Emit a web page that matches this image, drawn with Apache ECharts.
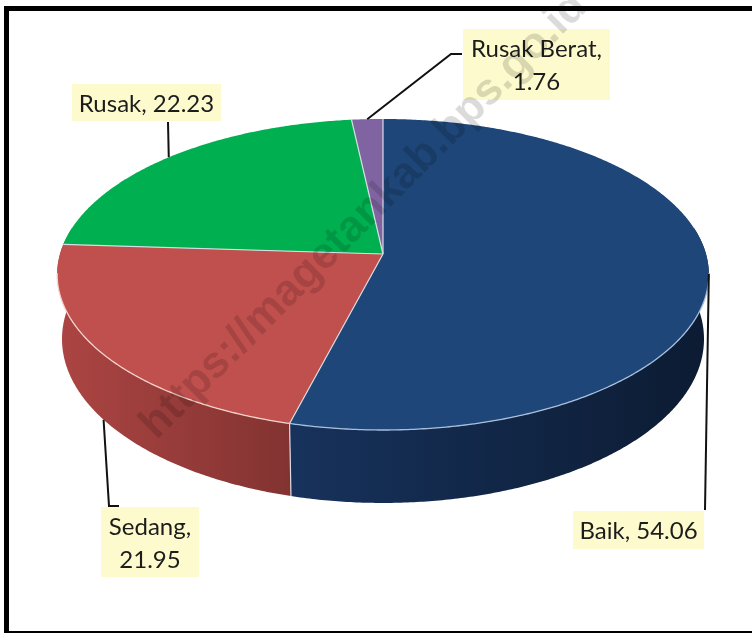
<!DOCTYPE html>
<html><head><meta charset="utf-8">
<style>html,body{margin:0;padding:0;background:#fff}#c{width:752px;height:633px}</style>
<script src="https://cdn.jsdelivr.net/npm/echarts@6/dist/echarts.min.js"></script>
</head><body><div id="c"></div>
<script>
const categories = ['Baik', 'Sedang', 'Rusak', 'Rusak Berat'];
const values = [54.06, 21.95, 22.23, 1.76];
const topColors = ['#1e4678', '#c0504d', '#00b050', '#8064a2'];
const rimColors = ['#a9bfdc', '#f3d3cb', '#d9dde3', '#d9dde3'];
const sideStops = [['#17325c', '#0c1b32'], ['#ac4543', '#823331'], ['#008a3e', '#008a3e'], ['#64507f', '#64507f']];
const labelLines = [['Baik, 54.06'], ['Sedang,', '21.95'], ['Rusak, 22.23'], ['Rusak Berat,', '1.76']];
const labelBoxes = [[573, 511, 131, 38], [101, 507, 98, 70], [72, 84, 149, 37], [463, 29, 147, 71]];
const leaderBends = [[[705, 510]], [[109, 506], [119, 506]], [[168, 122]], [[451, 54], [462, 54]]];
const leaderOnLowerRim = [false, true, false, false];

const total = values.reduce((a, b) => a + b, 0);
const K = -0.1318;
const TOP = { cx: 383, cy: 254, a: 323, b: 152.8 };
const LOW = { cx: 383, cy: 317.4, a: 318.2, b: 161.1 };
const FRONT = [97, 263];
function rim(disc, deg) {
  const t = deg * Math.PI / 180, u = Math.sin(t), v = -Math.cos(t), d = 1 + K * v;
  return [disc.cx + disc.a * u / d, disc.cy + disc.b * v / d];
}
function span(i) {
  let s = 0;
  for (let j = 0; j < i; j++) s += values[j];
  return [s / total * 360, (s + values[i]) / total * 360];
}
function arc(disc, from, to) {
  const n = Math.max(2, Math.ceil(Math.abs(to - from) * 2)), pts = [];
  for (let k = 0; k <= n; k++) pts.push(rim(disc, from + (to - from) * k / n));
  return pts;
}
const edge = '#d9dde3';
function sideItem(params) {
  const i = params.dataIndex, [s, e] = span(i);
  const from = Math.max(s, 80), to = Math.min(e, 280);
  if (to <= from) return { type: 'group', children: [] };
  const up = arc(TOP, from, to), low = arc(LOW, from, to);
  const xs = up.concat(low).map(p => p[0]);
  const x0 = Math.min(...xs), x1 = Math.max(...xs);
  const stops = sideStops[i];
  const children = [{
    type: 'polygon',
    shape: { points: up.concat(low.slice().reverse()) },
    style: {
      fill: new echarts.graphic.LinearGradient(x0, 0, x1, 0,
        [{ offset: 0, color: stops[0] }, { offset: 1, color: stops[1] }], true)
    }
  }];
  if (s >= FRONT[0] && s <= FRONT[1]) children.push({
    type: 'polyline', z2: 2,
    shape: { points: [rim(TOP, s), rim(LOW, s)] },
    style: { stroke: edge, lineWidth: 1.2, fill: null }
  });
  return { type: 'group', children };
}
function topItem(params) {
  const i = params.dataIndex, [s, e] = span(i);
  const children = [{
    type: 'polygon',
    shape: { points: [[TOP.cx, TOP.cy]].concat(arc(TOP, s, e)) },
    style: { fill: topColors[i] }
  }, {
    type: 'polyline', z2: 2,
    shape: { points: [rim(TOP, s), [TOP.cx, TOP.cy]] },
    style: { stroke: edge, lineWidth: 1.2, fill: null }
  }];
  const from = Math.max(s, FRONT[0]), to = Math.min(e, FRONT[1]);
  if (to > from) children.push({
    type: 'polyline', z2: 2,
    shape: { points: arc(TOP, from, to) },
    style: { stroke: rimColors[i], lineWidth: 1.3, fill: null }
  });
  return { type: 'group', children };
}
function labelItem(params) {
  const i = params.dataIndex, [s, e] = span(i);
  const mid = (s + e) / 2;
  const start = rim(leaderOnLowerRim[i] ? LOW : TOP, mid);
  const [bx, by, bw, bh] = labelBoxes[i];
  const lines = labelLines[i];
  const children = [
    { type: 'polyline', shape: { points: [start].concat(leaderBends[i]) },
      style: { stroke: '#111', lineWidth: 2, fill: null } },
    { type: 'rect', shape: { x: bx, y: by, width: bw, height: bh }, style: { fill: '#fdfbcd' } }
  ];
  lines.forEach((t, k) => children.push({
    type: 'text',
    style: {
      text: t, x: bx + bw / 2, y: by + bh / 2 + 1.5 + (k - (lines.length - 1) / 2) * 33,
      align: 'center', verticalAlign: 'middle',
      font: '24px Lato, "Open Sans", sans-serif', fill: '#1c1c1c'
    }
  }));
  return { type: 'group', children };
}
const chart = echarts.init(document.getElementById('c'), null, { renderer: 'canvas' });
const seriesData = categories.map((name, i) => ({ name, value: values[i] }));
chart.setOption({
  animation: false,
  backgroundColor: '#fff',
  series: [
    { type: 'custom', coordinateSystem: 'none', silent: true, z: 2, renderItem: sideItem, data: seriesData },
    { type: 'custom', coordinateSystem: 'none', silent: true, z: 3, renderItem: topItem, data: seriesData },
    { type: 'custom', coordinateSystem: 'none', silent: true, z: 4, renderItem: labelItem, data: seriesData }
  ],
  graphic: [
    { type: 'text', z: 50, silent: true, x: 148, y: 432, rotation: Math.PI / 4,
      style: { text: 'https://magetankab.bps.go.id', font: 'bold 44px "Liberation Sans", Arial, sans-serif',
        fill: 'rgba(0,0,0,0.14)', verticalAlign: 'middle', align: 'left' } },
    { type: 'rect', z: 60, silent: true, shape: { x: 4, y: 6, width: 748, height: 5 }, style: { fill: '#000' } },
    { type: 'rect', z: 60, silent: true, shape: { x: 4, y: 6, width: 5, height: 627 }, style: { fill: '#000' } },
    { type: 'rect', z: 60, silent: true, shape: { x: 4, y: 631, width: 748, height: 2 }, style: { fill: '#000' } }
  ]
});
</script></body></html>
